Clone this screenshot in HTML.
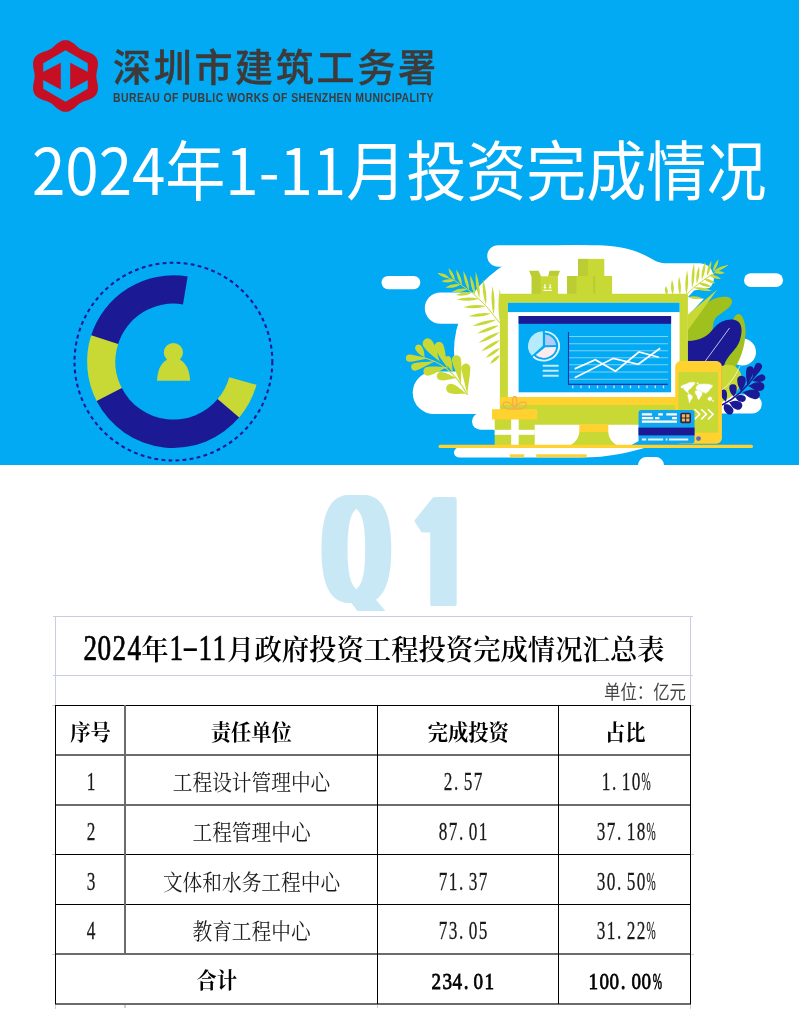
<!DOCTYPE html>
<html lang="zh-CN">
<head>
<meta charset="utf-8">
<title>2024年1-11月投资完成情况</title>
<style>
html,body{margin:0;padding:0;background:#fff;}
body{width:799px;height:1012px;position:relative;overflow:hidden;font-family:"Liberation Sans","Noto Sans CJK SC",sans-serif;}
#banner{position:absolute;left:0;top:0;width:799px;height:465px;background:#02a9f3;overflow:hidden;}
#art{position:absolute;left:0;top:0;width:799px;height:465px;}
#org-cn{position:absolute;left:113px;top:40.3px;height:56px;line-height:56px;font-family:"Liberation Sans","Noto Sans CJK SC",sans-serif;font-weight:500;-webkit-text-stroke:0.4px #3e3a39;font-size:38px;letter-spacing:2.7px;color:#3e3a39;white-space:nowrap;}
#org-en{position:absolute;left:113px;top:90.1px;height:16px;line-height:16px;font-family:"Liberation Sans",sans-serif;font-weight:bold;font-size:12px;letter-spacing:0.5px;color:#3e3a39;white-space:nowrap;transform-origin:0 50%;transform:scaleX(0.869);}
#title{position:absolute;left:32px;top:121.5px;height:90px;line-height:90px;font-family:"Noto Sans CJK SC","Liberation Sans",sans-serif;font-weight:400;font-size:60.05px;color:#fff;white-space:nowrap;transform-origin:0 50%;transform:scaleY(1.07);}
#q1{position:absolute;left:0;top:0;width:799px;height:611px;overflow:hidden;color:#c9e8f5;white-space:nowrap;line-height:1;font-size:0;}
#q1 span{display:inline-block;vertical-align:top;width:100px;height:150px;line-height:1;text-align:left;transform-origin:0 0;}
#q1 .q{font:144px/1 "DejaVu Sans Mono","Liberation Mono",monospace;transform:translate(315px,480.4px) scale(.79,.985);text-shadow:2px 0,4px 0,6px 0,8px 0,10px 0,12px 0,14px 0,16px 0,18px 0;}
#q1 .o{font:800 150px/1 "NanumGothic","Liberation Sans",sans-serif;transform:translate(303.5px,485.7px) scale(.7,.936);text-shadow:2px 0,4px 0,6px 0,8px 0,10px 0,12px 0,14px 0,16px 0,17.3px 0;}
#tbl{position:absolute;left:0;top:0;width:799px;height:1012px;font-family:"Liberation Serif","Noto Serif CJK SC",serif;color:#000;}
#tbl div{position:absolute;white-space:nowrap;text-align:center;}
#tbl i{display:inline-flex;justify-content:center;font-style:normal;line-height:1;vertical-align:baseline;}
.ln{background:#000;}
.g{background:#6c6c6c;}
.lg{background:#c9cde2;}
.c{font-size:19.7px;color:#1a1a1a;transform:scaleY(1.1);}
.c i{width:10px;font-size:22.1px;transform:scaleX(.78);position:relative;top:-0.1px;-webkit-text-stroke:0.25px #1a1a1a;}
.b{font-size:20.3px;font-weight:bold;color:#000;transform:scaleY(1.07);}
.b i{width:10.6px;font-size:22.2px;transform:scaleX(.86);font-weight:normal;-webkit-text-stroke:0.75px #000;}
.tt{font-size:27.35px;font-weight:600;color:#000;transform:scaleY(1.06);}
.tt i{width:14.65px;font-size:34px;transform:scaleX(.8);font-weight:normal;-webkit-text-stroke:0.7px #000;}
#tbl .tt i.h{transform:scaleX(1.5);-webkit-text-stroke:0;position:relative;top:-1px;}
#tbl i.p{justify-content:flex-start;}
#tbl i.q{transform:scaleX(.5);}
.un{font-size:16.4px;color:#444;text-align:right !important;transform:scaleY(1.15);font-family:"Liberation Sans","Noto Sans CJK SC",sans-serif;font-weight:400;}
</style>
</head>
<body>
<div id="banner">
<svg id="art" viewBox="0 0 799 465" width="799" height="465">
<!--ART-->
<g fill="#fff">
<rect x="381.5" y="275.9" width="38.8" height="13.3" rx="6.65"/>
<rect x="744" y="273.3" width="39" height="13.8" rx="6.9"/>
<ellipse cx="575" cy="351" rx="121" ry="106"/>
<path d="M498,245.2 H600 C625,246 640,252 652,259 C658,262.6 662,263.3 670,263.3 H700 A14.5,14.5 0 0 1 709.5,288 L694,290.5 L688,297 L704,298.8 L688,315.5 H600 V266.7 H498 A10.75,10.75 0 0 1 498,245.2Z"/>
<rect x="424.8" y="292.4" width="90" height="31.4" rx="15.7"/>
<rect x="412.7" y="371.5" width="90" height="42.5" rx="21.2"/>
<rect x="472" y="413" width="40" height="16.8" rx="8.4"/>
<circle cx="742.4" cy="352" r="13.6"/>
<rect x="700" y="394.6" width="61.8" height="19" rx="9.5"/>
<path d="M459,447.5 H646 C630,452 610,457.6 580,457.6 H459 A5,5 0 0 1 459,447.5Z"/>
<rect x="638" y="457.1" width="26" height="17" rx="8.3"/>
</g>
<path d="M455.0,280.8 Q454.7,273.7 448.5,268.0 Q449.4,276.4 455.0,280.8Z M462.0,285.5 Q462.2,277.3 456.2,269.5 Q456.6,279.3 462.0,285.5Z M469.0,290.5 Q469.3,280.8 463.3,270.8 Q463.6,282.5 469.0,290.5Z M475.0,295.0 Q475.8,285.3 470.2,275.0 Q469.9,286.7 475.0,295.0Z M479.5,298.5 Q480.8,285.9 475.7,271.5 Q474.8,286.8 479.5,298.5Z M486.0,305.0 Q487.6,293.0 483.0,279.0 Q481.7,293.6 486.0,305.0Z M493.6,314.5 Q496.1,301.6 492.5,286.0 Q490.1,301.8 493.6,314.5Z M500.0,322.0 Q502.9,307.0 499.8,288.7 Q496.9,307.0 500.0,322.0Z M449.0,277.5 Q445.2,272.6 437.9,273.2 Q442.8,278.5 449.0,277.5Z M454.4,280.5 Q448.3,277.6 441.3,281.2 Q448.7,284.0 454.4,280.5Z M460.6,284.4 Q453.1,282.6 445.2,287.4 Q454.3,288.9 460.6,284.4Z M467.5,289.0 Q459.8,287.2 451.6,291.9 Q460.9,293.5 467.5,289.0Z M471.6,292.9 Q464.1,290.7 455.8,295.0 Q464.9,297.0 471.6,292.9Z M479.2,299.0 Q468.9,296.0 456.4,299.5 Q469.0,302.4 479.2,299.0Z M485.4,306.2 Q475.3,303.4 463.3,307.0 Q475.6,309.8 485.4,306.2Z M490.9,313.5 Q480.4,311.6 468.4,316.3 Q481.2,317.9 490.9,313.5Z M496.4,319.7 Q484.8,319.4 472.3,325.9 Q486.4,325.6 496.4,319.7Z M499.1,325.2 Q488.0,325.9 477.0,333.5 Q490.3,331.9 499.1,325.2Z M500.0,332.0 Q488.9,334.1 478.5,343.0 Q491.8,339.8 500.0,332.0Z M500.0,340.0 Q489.8,342.4 481.0,351.5 Q493.1,347.9 500.0,340.0Z M500.0,348.0 Q491.7,349.9 485.5,358.0 Q495.3,355.1 500.0,348.0Z M500.0,355.0 Q493.4,356.7 490.0,364.0 Q497.6,361.4 500.0,355.0Z" fill="#c8d936"/>
<path d="M437.9,273.2 Q473.3,285.4 499.8,323" fill="none" stroke="#c8d936" stroke-width="1"/>
<path d="M666.9,295.0 Q669.2,290.6 665.8,286.0 Q663.6,291.3 666.9,295.0Z M672.8,295.0 Q675.2,288.0 672.0,279.8 Q669.6,288.3 672.8,295.0Z M680.0,295.0 Q682.3,286.5 679.0,276.5 Q676.8,286.8 680.0,295.0Z M686.3,294.5 Q689.5,283.7 687.2,270.3 Q683.9,283.5 686.3,294.5Z M692.2,288.0 Q695.8,277.0 694.0,263.0 Q690.2,276.5 692.2,288.0Z M696.7,283.7 Q700.5,276.2 699.0,266.3 Q695.0,275.5 696.7,283.7Z M701.8,279.8 Q706.1,272.2 705.2,261.8 Q700.6,271.2 701.8,279.8Z M706.9,276.0 Q711.6,269.9 711.4,260.7 Q706.2,268.3 706.9,276.0Z M713.0,271.6 Q718.0,267.2 718.5,259.3 Q712.9,264.9 713.0,271.6Z M713.6,272.0 Q718.5,275.4 725.0,273.0 Q719.0,269.5 713.6,272.0Z M709.0,275.0 Q713.5,279.6 721.0,279.0 Q715.3,274.0 709.0,275.0Z M704.0,278.8 Q708.0,283.6 715.3,283.2 Q710.2,278.0 704.0,278.8Z M698.4,283.0 Q703.5,287.7 711.7,287.0 Q705.2,281.9 698.4,283.0Z M693.4,287.5 Q701.1,291.9 711.7,290.8 Q702.2,286.0 693.4,287.5Z M688.3,297.0 Q694.6,300.7 703.0,298.5 Q695.2,294.7 688.3,297.0Z M713.5,271.3 Q720.8,270.8 727.7,265.2 Q718.9,266.3 713.5,271.3Z" fill="#c8d936"/>
<path d="M686.6,294.5 Q699,281 727.7,265.2" fill="none" stroke="#c8d936" stroke-width="1"/>
<path d="M440.0,362.0 C437.7,357.0 436.7,348.0 432.3,340.9 A5.2,5.2 0 1 0 423.7,346.7 C428.5,353.5 436.3,357.9 440.0,362.0Z M425.0,358.0 C424.0,355.4 425.0,351.6 422.0,346.7 A3.6,3.6 0 1 0 416.0,350.5 C419.2,355.3 423.0,355.9 425.0,358.0Z M448.0,369.0 C446.4,363.1 445.8,351.7 443.3,344.8 A4.6,4.6 0 1 0 434.7,348.2 C437.7,355.0 445.1,363.6 448.0,369.0Z M453.0,373.0 C452.1,369.5 452.7,363.5 450.9,358.3 A3.4,3.4 0 1 0 444.5,360.9 C446.7,365.8 451.2,369.8 453.0,373.0Z M461.0,385.0 C460.6,378.7 462.1,366.8 461.0,359.5 A4.6,4.6 0 1 0 452.0,361.1 C453.5,368.3 459.2,378.9 461.0,385.0Z M467.3,395.0 C467.6,388.2 470.4,374.7 470.3,367.7 A4.4,4.4 0 1 0 461.5,368.1 C462.1,375.1 466.3,388.3 467.3,395.0Z M428.0,358.5 C423.4,357.9 415.3,354.9 409.6,354.6 A3.6,3.6 0 1 0 409.4,361.8 C415.2,361.7 423.4,359.0 428.0,358.5Z M436.0,361.0 C430.6,361.9 419.9,361.8 414.0,363.2 A3.8,3.8 0 1 0 416.0,370.6 C421.8,368.7 430.9,363.0 436.0,361.0Z M448.0,367.0 C442.9,367.4 434.0,365.7 427.1,367.0 A4.4,4.4 0 1 0 428.9,375.6 C435.8,373.9 443.1,368.7 448.0,367.0Z M457.0,378.0 C453.1,376.9 448.1,372.9 441.5,371.9 A4.2,4.2 0 1 0 440.5,380.3 C447.2,380.9 452.9,378.2 457.0,378.0Z M467.0,394.0 C463.2,392.0 459.2,386.7 452.3,384.1 A4.6,4.6 0 1 0 449.3,392.9 C456.4,395.0 462.7,393.3 467.0,394.0Z" fill="#c8d936"/>
<path d="M420,357 Q450,362 467.5,395" fill="none" stroke="#c8d936" stroke-width="1.2"/>
<path d="M722,380 C735,372 744,356 745.5,334 C746,322 742,313 738,314 C733,316 730,326 726,340 C722,355 718,370 722,380Z" fill="#a0c01e"/>
<path d="M688,328 C695,314 706,300 719,297.3 C727,295.8 733,297.5 732,302.5 C731,308 722,312 716.5,317 C712.5,321 713.5,326 712.5,330 C710,338 700,341 688,342Z" fill="#a0c01e"/>
<path d="M688,314.5 L717.3,289.4 L688,330Z" fill="#c8d936"/>
<path d="M687.5,341 C700,341 708,336 714,328 C720,321 728,318.5 735,320 C742,322 743,330 740,340 C737,350 726,356 724,366 C722,376 728,385 722,395 L687.5,395Z" fill="#1b1a94"/>
<path d="M705,361.5 L729.5,328" stroke="#e8e8ff" stroke-width="0.8" fill="none"/>
<path d="M722,366 C730,363 738,366 741,374 C744,383 738,395 722,402Z" fill="#c8d936"/>
<path d="M722,390 Q733,382 740,366" stroke="#fff" stroke-width="0.7" fill="none"/>
<path d="M752.0,380.0 C754.1,376.9 758.9,373.5 761.5,368.4 A3.6,3.6 0 1 0 755.1,365.2 C752.7,370.5 753.1,376.5 752.0,380.0Z M747.0,386.0 C748.3,382.2 752.4,377.2 753.7,371.2 A3.8,3.8 0 1 0 746.3,369.8 C745.3,375.8 747.2,382.0 747.0,386.0Z M741.0,392.0 C741.8,389.0 745.3,387.0 745.8,380.2 A4.3,4.3 0 1 0 737.2,379.8 C737.1,386.7 740.5,389.0 741.0,392.0Z M734.0,397.0 C734.3,394.7 737.1,393.5 736.7,387.6 A3.7,3.7 0 1 0 729.3,388.4 C730.2,394.3 733.2,394.8 734.0,397.0Z M726.0,402.0 C725.9,399.6 727.9,397.2 726.7,392.1 A3.3,3.3 0 1 0 720.3,393.9 C721.9,398.9 724.9,399.9 726.0,402.0Z M752.0,381.0 C754.5,380.8 757.2,382.9 762.6,381.3 A3.5,3.5 0 1 0 760.4,374.7 C755.2,376.5 754.2,379.7 752.0,381.0Z M748.0,386.0 C751.0,386.8 752.8,390.4 759.8,390.9 A4.4,4.4 0 1 0 760.2,382.1 C753.1,382.0 751.0,385.5 748.0,386.0Z M742.0,392.0 C745.1,393.3 746.9,397.4 754.1,399.0 A4.6,4.6 0 1 0 755.9,390.0 C748.6,388.8 745.4,391.9 742.0,392.0Z M735.0,397.0 C736.6,397.9 736.0,400.5 741.3,401.8 A3.4,3.4 0 1 0 742.7,395.2 C737.4,394.2 736.9,396.9 735.0,397.0Z M729.0,402.0 C731.0,403.5 730.1,406.8 736.4,409.5 A4.3,4.3 0 1 0 739.6,401.5 C733.1,399.2 731.5,402.3 729.0,402.0Z M724.0,404.0 C724.8,405.9 721.8,407.5 725.9,412.6 A4.1,4.1 0 1 0 732.1,407.4 C727.8,402.5 725.7,405.1 724.0,404.0Z" fill="#1b1a94"/>
<path d="M722,405 Q742,395 756,374" fill="none" stroke="#1b1a94" stroke-width="1.4"/>
<rect x="531.7" y="276.3" width="26.2" height="18" fill="#c8d936"/>
<rect x="531.7" y="276.3" width="9" height="18" fill="#bccd33"/>
<path d="M529,270.8 H538.6 L541.3,277 H531.7Z M549.6,270.8 H560 L557.9,276.6 H548Z" fill="#bccd33"/>
<path d="M544.9,284.2 V287.6 M550.2,284.2 V287.6" stroke="#fff" stroke-width="1.2" fill="none"/>
<path d="M543.3,287 h3.2 l-1.6,1.9Z M548.6,287 h3.2 l-1.6,1.9Z" fill="#fff"/>
<rect x="543.3" y="289.8" width="8.6" height="1.1" fill="#fff"/>
<rect x="567.1" y="276" width="45" height="18.2" fill="#c8d936"/>
<rect x="567.1" y="276" width="9.4" height="18.2" fill="#bccd33"/>
<rect x="593" y="276" width="2.4" height="18.2" fill="#bccd33"/>
<rect x="578.1" y="258.9" width="26.2" height="17.3" fill="#c8d936"/>
<rect x="578.1" y="258.9" width="9.8" height="17.3" fill="#bccd33"/>
<rect x="499.9" y="293.8" width="188" height="131" rx="1.5" fill="#c8d936"/>
<rect x="507.9" y="302.7" width="171.7" height="94.4" fill="#fff"/>
<rect x="507.9" y="302.7" width="171.7" height="9.4" fill="#02a9f3"/>
<rect x="518.6" y="316" width="152.5" height="76.3" fill="#02a9f3"/>
<rect x="518.6" y="316" width="152.5" height="7.8" fill="#1b1a94"/>
<g transform="translate(0,19.6) scale(1,0.945)">
<path d="M544.87,330.24 A15.3,15.3 0 1 1 533.17,356.51" fill="none" stroke="#dcf5ff" stroke-width="1.9"/>
<path d="M542.90,345.10 L542.84,329.73 A15.8,15.8 0 0 0 531.79,355.76Z" fill="#b5ebfd"/>
<path d="M545.10,344.50 L545.10,333.17 A12.4,12.4 0 0 1 556.15,344.42Z" fill="#b3cbf5"/>
<path d="M545.20,346.80 L556.15,346.58 A12.4,12.4 0 0 1 535.66,354.86Z" fill="#fdeaec"/>
</g>
<path d="M542.7,365.8 H558.6 M542.7,370.8 H558.6 M542.7,375.8 H558.6" stroke="#c9e9fb" stroke-width="1.9" fill="none"/>
<path d="M568.5,336.5 H668 M568.5,343.7 H668 M568.5,350.7 H668 M568.5,357.8 H668 M568.5,364.8 H668 M568.5,372 H668 M568.5,379.2 H668" stroke="#7fd0fa" stroke-width="1.1" fill="none"/>
<path d="M568.5,332 V384.4 H668" stroke="#2130a8" stroke-width="1.1" fill="none"/>
<path d="M572.8,385.6 v2.6 M581.0,385.6 v2.6 M589.3,385.6 v2.6 M597.5,385.6 v2.6 M605.8,385.6 v2.6 M614.0,385.6 v2.6 M622.3,385.6 v2.6 M630.5,385.6 v2.6 M638.8,385.6 v2.6 M647.0,385.6 v2.6 M655.3,385.6 v2.6 M663.5,385.6 v2.6" stroke="#bfe6fb" stroke-width="1.3" fill="none"/>
<path d="M574.7,368.9 L595.3,359.7 L615.5,371.2 L638.9,352 L658.8,357.2" stroke="#fff" stroke-width="1.7" fill="none" stroke-linejoin="miter"/>
<path d="M574.7,377.8 L613.4,358.3 L638.2,364.3 L660.2,348.3" stroke="#fff" stroke-width="1.7" fill="none"/>
<rect x="499.9" y="397.1" width="188" height="7.9" fill="#ffd230"/>
<rect x="579.3" y="424.3" width="29" height="8" fill="#ffd230"/>
<path d="M579.3,432 H608.3 C608.6,438 612,443 619,446.4 H568.5 C575,443 579,438 579.3,432Z" fill="#c8d936"/>
<rect x="494.7" y="419" width="40" height="27" fill="#c8d936"/>
<rect x="511.2" y="419" width="7.5" height="27" fill="#fff"/>
<rect x="494.7" y="429.8" width="40" height="5" fill="#fff"/>
<rect x="492" y="409.2" width="45.2" height="10.3" fill="#ffd230"/>
<path d="M514.6,409 C510,400 502,400.5 503.3,405.5 C504.3,409 510,409.3 514.6,409 C519,409.3 525,409 526,405.5 C527.2,400.5 519.3,400 514.6,409 M514.6,409 C511,402 513,396.5 514.7,396.5 C516.4,396.5 518.3,402 514.6,409" fill="none" stroke="#f5b04d" stroke-width="1.5"/>
<rect x="438.5" y="444.7" width="314.5" height="3.4" rx="1.7" fill="#ffd230"/>
<rect x="509.5" y="454.3" width="15" height="2.9" rx="1.45" fill="#ffd230"/>
<rect x="536" y="454.3" width="51" height="2.9" rx="1.45" fill="#ffd230"/>
<rect x="675.2" y="361.1" width="46.7" height="82.6" rx="5.5" fill="#ffd230"/>
<rect x="678.3" y="372" width="39.8" height="60.7" fill="#c8d936"/>
<circle cx="698.5" cy="438.6" r="2.4" fill="#5b68c4"/>
<path d="M680.8,386.6 L682.8,385.2 L686.5,383.9 L689.6,382.5 L692.3,382.2 L695,382.5 L694.3,384.5 L692.3,386.2 L690.9,388.2 L688.9,389.6 L687.9,391.6 L688.9,393.3 L687.2,392.3 L684.8,390.3 L683.8,388.2 L681.5,387.9Z M688.2,394 L690.9,394.7 L692.6,396.7 L691.6,399.1 L690.2,401.1 L689.4,403.1 L688.9,400.4 L688.2,397.7 L687.7,395.7Z M696.7,386.2 L698.4,384.5 L701.1,384.2 L704.4,383.9 L708.5,384.2 L712.5,385.5 L711.9,387.6 L709.8,388.9 L708.8,390.9 L707.1,392.3 L705.8,393.6 L704.4,392.6 L702.4,392.3 L701.1,390.9 L699,390.3 L697,389.9 L696,388.2Z M695.3,390.9 L699,390.6 L701.7,392.3 L702.1,394.7 L700.4,397 L699,399.7 L697.7,398.4 L697,395.7 L695.3,393.6Z M707.8,398.4 L709.8,396.7 L711.9,397.7 L711.5,400.1 L709.8,400.7 L708.1,399.7Z M696.8,382.9 L698.2,382.7 L698.4,383.6 L697,383.8Z M712.4,400.6 L713.5,400.2 L713.7,401.2 L712.6,401.6Z" fill="#fff" stroke="#fff" stroke-width="0.4" stroke-linejoin="round"/>
<path d="M694.5,409.2 l5.2,5.1 -5.2,5.1 M701.2,409.2 l5.2,5.1 -5.2,5.1 M707.9,409.2 l5.2,5.1 -5.2,5.1" stroke="#fff" stroke-width="1.6" fill="none"/>
<rect x="638.5" y="410" width="56" height="33.6" rx="3" fill="#11a7ee"/>
<rect x="638.5" y="427.6" width="56" height="7.8" fill="#1b1a94"/>
<path d="M641.9,414.4 H651.9 M658.2,414.4 H662.8 M666.3,414.4 H676.9 M641.9,418.1 H653.2 M655,418.1 H659.4 M672,418.1 H676.9 M641.9,421.7 H676.9" stroke="#fff" stroke-width="2.2" fill="none"/>
<path d="M641.9,439.4 H646.3 M648.1,439.4 H663.2 M665.7,439.4 H667.5 M669,439.4 H688.2" stroke="#e8f6fe" stroke-width="2" fill="none"/>
<rect x="680.2" y="412.7" width="10.8" height="10.5" rx="1.8" fill="#2b2450"/>
<path d="M681.9,414.3 h3.2 v3.1 h-3.2Z M686.2,414.3 h3.2 v3.1 h-3.2Z M681.9,418.5 h3.2 v3.1 h-3.2Z M686.2,418.5 h3.2 v3.1 h-3.2Z" fill="#f6b651"/>
<path d="M96.30,76.00 L96.38,74.38 L96.61,72.73 L96.94,71.02 L97.32,69.24 L97.67,67.38 L97.90,65.47 L97.96,63.54 L97.77,61.63 L97.29,59.80 L96.50,58.10 L95.42,56.57 L94.08,55.24 L92.52,54.12 L90.82,53.20 L89.05,52.45 L87.27,51.83 L85.53,51.26 L83.88,50.70 L82.34,50.07 L80.90,49.33 L79.54,48.45 L78.22,47.43 L76.91,46.28 L75.55,45.06 L74.12,43.83 L72.58,42.67 L70.94,41.66 L69.19,40.87 L67.37,40.37 L65.50,40.20 L63.63,40.37 L61.81,40.87 L60.06,41.66 L58.42,42.67 L56.88,43.83 L55.45,45.06 L54.09,46.28 L52.78,47.43 L51.46,48.45 L50.10,49.33 L48.66,50.07 L47.12,50.70 L45.47,51.26 L43.73,51.83 L41.95,52.45 L40.18,53.20 L38.48,54.12 L36.92,55.24 L35.58,56.57 L34.50,58.10 L33.71,59.80 L33.23,61.63 L33.04,63.54 L33.10,65.47 L33.33,67.38 L33.68,69.24 L34.06,71.02 L34.39,72.73 L34.62,74.38 L34.70,76.00 L34.62,77.62 L34.39,79.27 L34.06,80.98 L33.68,82.76 L33.33,84.62 L33.10,86.53 L33.04,88.46 L33.23,90.37 L33.71,92.20 L34.50,93.90 L35.58,95.43 L36.92,96.76 L38.48,97.88 L40.18,98.80 L41.95,99.55 L43.73,100.17 L45.47,100.74 L47.12,101.30 L48.66,101.93 L50.10,102.67 L51.46,103.55 L52.78,104.57 L54.09,105.72 L55.45,106.94 L56.88,108.17 L58.42,109.33 L60.06,110.34 L61.81,111.13 L63.63,111.63 L65.50,111.80 L67.37,111.63 L69.19,111.13 L70.94,110.34 L72.58,109.33 L74.12,108.17 L75.55,106.94 L76.91,105.72 L78.22,104.57 L79.54,103.55 L80.90,102.67 L82.34,101.93 L83.88,101.30 L85.53,100.74 L87.27,100.17 L89.05,99.55 L90.82,98.80 L92.52,97.88 L94.08,96.76 L95.42,95.43 L96.50,93.90 L97.29,92.20 L97.77,90.37 L97.96,88.46 L97.90,86.53 L97.67,84.62 L97.32,82.76 L96.94,80.98 L96.61,79.27 L96.38,77.62Z M65.50,50.30 L43.24,63.15 L43.24,88.85 L65.50,101.70 L87.76,88.85 L87.76,63.15Z" fill="#c60f23" fill-rule="evenodd"/>
<path d="M43,72 L60.8,62.8 L60.8,89.6 L43,80Z M88,72 L70.2,62.8 L70.2,89.6 L88,80Z" fill="#c60f23"/>
<circle cx="173.4" cy="361.6" r="98.9" fill="none" stroke="#1b1a94" stroke-width="2.1" stroke-dasharray="3.8 3.3"/>
<path d="M187.64,276.48 A86.3,86.3 0 0 0 90.87,336.37 L117.93,344.64 A58,58 0 0 1 182.97,304.40Z" fill="#1b1a94"/>
<path d="M91.19,335.36 A86.3,86.3 0 0 0 96.92,401.58 L122.00,388.47 A58,58 0 0 1 118.15,343.97Z" fill="#c8d936"/>
<path d="M96.64,401.05 A86.3,86.3 0 0 0 239.70,416.84 L217.96,398.73 A58,58 0 0 1 121.81,388.11Z" fill="#1b1a94"/>
<path d="M239.22,417.42 A86.3,86.3 0 0 0 256.52,384.81 L229.26,377.20 A58,58 0 0 1 217.63,399.11Z" fill="#c8d936"/>
<circle cx="173.4" cy="352.5" r="9.6" fill="#c8d936"/>
<path d="M157,380.8 C157.5,366.5 164,358.3 173.4,358.3 C183,358.3 189.6,366.5 190.1,380.8Z" fill="#c8d936"/>
<!--/ART-->
</svg>
<div id="org-cn">深圳市建筑工务署</div>
<div id="org-en">BUREAU OF PUBLIC WORKS OF SHENZHEN MUNICIPALITY</div>
<div id="title">2024年1-11月投资完成情况</div>
</div>
<div id="q1"><span class="q">Q</span><span class="o">1</span></div>
<div id="tbl">
<!--TABLE-->
<div class="lg" style="left:53px;top:616px;width:640px;height:1px"></div>
<div class="lg" style="left:53px;top:675px;width:640px;height:1px"></div>
<div class="lg" style="left:55px;top:616px;width:1px;height:89px"></div>
<div class="lg" style="left:690px;top:616px;width:1px;height:89px"></div>
<div class="lg" style="left:55px;top:1005px;width:1px;height:4px"></div>
<div class="lg" style="left:124px;top:1005px;width:2px;height:3px"></div>
<div class="lg" style="left:377px;top:1005px;width:1px;height:3px"></div>
<div class="lg" style="left:690px;top:1005px;width:1px;height:4px"></div>
<div class="lg" style="left:52px;top:705px;width:3px;height:1px"></div>
<div class="lg" style="left:691px;top:705px;width:3px;height:1px"></div>
<div class="lg" style="left:52px;top:854px;width:3px;height:1px"></div>
<div class="lg" style="left:691px;top:854px;width:3px;height:1px"></div>
<div class="lg" style="left:52px;top:954px;width:3px;height:1px"></div>
<div class="lg" style="left:691px;top:954px;width:3px;height:1px"></div>
<div class="ln" style="left:55px;top:705px;width:636px;height:1px"></div>
<div class="ln g" style="left:55px;top:754px;width:636px;height:2px"></div>
<div class="ln g" style="left:55px;top:804px;width:636px;height:2px"></div>
<div class="ln" style="left:55px;top:854px;width:636px;height:1px"></div>
<div class="ln" style="left:55px;top:904px;width:636px;height:1px"></div>
<div class="ln g" style="left:55px;top:953px;width:636px;height:2px"></div>
<div class="ln g" style="left:55px;top:1003px;width:636px;height:2px"></div>
<div class="ln" style="left:55px;top:705px;width:1px;height:299px"></div>
<div class="ln g" style="left:124px;top:705px;width:2px;height:249px"></div>
<div class="ln" style="left:377px;top:705px;width:1px;height:299px"></div>
<div class="ln" style="left:558px;top:705px;width:1px;height:299px"></div>
<div class="ln" style="left:690px;top:705px;width:1px;height:299px"></div>
<div class="tt" style="left:55.6px;top:620.5px;width:636px;height:59px;line-height:59px"><i>2</i><i>0</i><i>2</i><i>4</i>年<i>1</i><i class="h">-</i><i>1</i><i>1</i>月政府投资工程投资完成情况汇总表</div>
<div class="un" style="left:500px;top:677.3px;width:186px;height:30px;line-height:30px">单位：亿元</div>
<div class="c b" style="left:55.8px;top:707.7px;width:69.4px;height:50px;line-height:50px">序号</div>
<div class="c b" style="left:125.2px;top:707.7px;width:252.3px;height:50px;line-height:50px">责任单位</div>
<div class="c b" style="left:377.5px;top:707.7px;width:181.6px;height:50px;line-height:50px">完成投资</div>
<div class="c b" style="left:559.1px;top:707.7px;width:132.2px;height:50px;line-height:50px">占比</div>
<div class="c" style="left:56.8px;top:757.2px;width:69.4px;height:50px;line-height:50px"><i>1</i></div>
<div class="c" style="left:125.4px;top:757.2px;width:252.3px;height:50px;line-height:50px">工程设计管理中心</div>
<div class="c" style="left:372.7px;top:757.2px;width:181.6px;height:50px;line-height:50px"><i>2</i><i class="p">.</i><i>5</i><i>7</i></div>
<div class="c" style="left:559.9px;top:757.2px;width:132.2px;height:50px;line-height:50px"><i>1</i><i class="p">.</i><i>1</i><i>0</i><i class="q">%</i></div>
<div class="c" style="left:56.8px;top:806.9px;width:69.4px;height:50px;line-height:50px"><i>2</i></div>
<div class="c" style="left:125.4px;top:806.9px;width:252.3px;height:50px;line-height:50px">工程管理中心</div>
<div class="c" style="left:372.7px;top:806.9px;width:181.6px;height:50px;line-height:50px"><i>8</i><i>7</i><i class="p">.</i><i>0</i><i>1</i></div>
<div class="c" style="left:559.9px;top:806.9px;width:132.2px;height:50px;line-height:50px"><i>3</i><i>7</i><i class="p">.</i><i>1</i><i>8</i><i class="q">%</i></div>
<div class="c" style="left:56.8px;top:856.6px;width:69.4px;height:50px;line-height:50px"><i>3</i></div>
<div class="c" style="left:125.4px;top:856.6px;width:252.3px;height:50px;line-height:50px">文体和水务工程中心</div>
<div class="c" style="left:372.7px;top:856.6px;width:181.6px;height:50px;line-height:50px"><i>7</i><i>1</i><i class="p">.</i><i>3</i><i>7</i></div>
<div class="c" style="left:559.9px;top:856.6px;width:132.2px;height:50px;line-height:50px"><i>3</i><i>0</i><i class="p">.</i><i>5</i><i>0</i><i class="q">%</i></div>
<div class="c" style="left:56.8px;top:906.3px;width:69.4px;height:50px;line-height:50px"><i>4</i></div>
<div class="c" style="left:125.4px;top:906.3px;width:252.3px;height:50px;line-height:50px">教育工程中心</div>
<div class="c" style="left:372.7px;top:906.3px;width:181.6px;height:50px;line-height:50px"><i>7</i><i>3</i><i class="p">.</i><i>0</i><i>5</i></div>
<div class="c" style="left:559.9px;top:906.3px;width:132.2px;height:50px;line-height:50px"><i>3</i><i>1</i><i class="p">.</i><i>2</i><i>2</i><i class="q">%</i></div>
<div class="c b" style="left:55.8px;top:956.9px;width:322px;height:49px;line-height:49px">合计</div>
<div class="c b" style="left:372px;top:957.7px;width:181.5px;height:49px;line-height:49px"><i>2</i><i>3</i><i>4</i><i class="p">.</i><i>0</i><i>1</i></div>
<div class="c b" style="left:559px;top:957.7px;width:132.5px;height:49px;line-height:49px"><i>1</i><i>0</i><i>0</i><i class="p">.</i><i>0</i><i>0</i><i class="q">%</i></div>
<!--/TABLE-->
</div>
</body>
</html>
